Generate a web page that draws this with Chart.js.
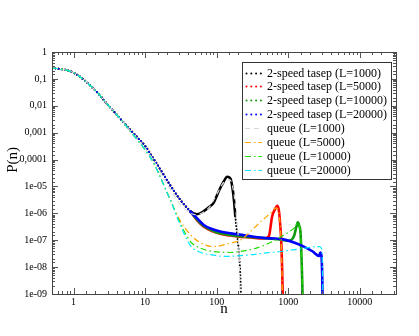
<!DOCTYPE html>
<html>
<head>
<meta charset="utf-8">
<script src="https://cdn.jsdelivr.net/npm/chart.js@4"></script>
<style>
html, body { margin: 0; padding: 0; background: #fff; }
</style>
</head>
<body>
<canvas id="c" width="419" height="336"></canvas>
<script>
// tick labels
var xTickValues = [1, 10, 100, 1000, 10000];
var xTickLabels = ['1', '10', '100', '1000', '10000'];
var yTickValues = [1, 0.1, 0.01, 1e-3, 1e-4, 1e-5, 1e-6, 1e-7, 1e-8, 1e-9];
var yTickLabels = ['1', '0,1', '0,01', '0,001', '0,0001', '1e-05', '1e-06', '1e-07', '1e-08', '1e-09'];

// common start of every curve
var nHead = [0.5, 1, 2, 3, 4, 5];
var pHead = [0.26, 0.17, 0.038, 0.011, 0.0047, 0.0024];

// 2-speed tasep, shared part up to n~43
var nTasepBase = [6, 8, 10, 13, 16, 23, 31, 43];
var pTasepBase = [1.4e-3, 6.2e-4, 3.2e-4, 1.1e-4, 4.7e-5, 1.0e-5, 3.2e-6, 1.17e-6];

var nTasep1000 = [53, 66, 80, 90, 110, 125, 140, 155, 165, 175, 182, 195, 203, 210, 216, 222];
var pTasep1000 = [9.3e-7, 1.2e-6, 1.78e-6, 2.4e-6, 7.9e-6, 1.5e-5, 2.3e-5, 2.0e-5, 1.0e-5, 2.8e-6, 7.9e-7, 1.26e-7, 4.4e-8, 1.26e-8, 2.5e-9, 1e-10];

var nTasep5000 = [53, 66, 90, 112, 193, 300, 450, 535, 595, 650, 700, 740, 775, 800, 822, 850];
var pTasep5000 = [5.6e-7, 3.2e-7, 2.1e-7, 1.74e-7, 1.38e-7, 1.26e-7, 1.17e-7, 1.4e-7, 7.6e-7, 1.4e-6, 1.9e-6, 1.26e-6, 3.2e-7, 7.9e-8, 7.9e-9, 1e-10];

var nTasep10000 = [53, 66, 90, 112, 193, 300, 500, 800, 1000, 1090, 1200, 1300, 1360, 1420, 1486, 1530, 1570, 1610];
var pTasep10000 = [6.0e-7, 3.4e-7, 2.2e-7, 1.8e-7, 1.45e-7, 1.32e-7, 1.17e-7, 1.05e-7, 9.5e-8, 1.0e-7, 1.4e-7, 3.2e-7, 4.6e-7, 3.5e-7, 1.8e-7, 2.5e-8, 2.5e-9, 1e-10];

var nTasep20000 = [53, 66, 90, 112, 193, 300, 560, 780, 1200, 1650, 2200, 2690, 2800, 2900, 2980, 3050];
var pTasep20000 = [6.6e-7, 3.7e-7, 2.5e-7, 2.1e-7, 1.66e-7, 1.4e-7, 1.17e-7, 1.12e-7, 8.3e-8, 5.8e-8, 3.8e-8, 2.6e-8, 3.5e-8, 2.8e-8, 5e-9, 1e-10];

// queue, shared part up to n~23
var nQueueBase = [6, 8, 10, 13, 16, 20, 23];
var pQueueBase = [1.26e-3, 5.0e-4, 2.3e-4, 7.9e-5, 2.5e-5, 6.3e-6, 2.8e-6];

var nQueue1000 = [6, 8, 10, 13, 16, 23, 31, 43, 53, 66, 80, 100, 125, 150, 170, 190, 205, 215];
var pQueue1000 = [1.3e-3, 5.4e-4, 2.6e-4, 9.5e-5, 3.6e-5, 7.1e-6, 2.2e-6, 1.0e-6, 8.9e-7, 1.12e-6, 1.78e-6, 5.0e-6, 1.4e-5, 1.78e-5, 7.9e-6, 6.3e-7, 3.2e-8, 1e-10];

var nQueue5000 = [29, 43, 60, 90, 155, 213, 266, 405, 562, 680, 740, 790, 815, 840];
var pQueue5000 = [7.1e-7, 1.6e-7, 7.9e-8, 5.8e-8, 7.8e-8, 1.0e-7, 1.6e-7, 4.7e-7, 1.0e-6, 1.6e-6, 1.0e-6, 1.26e-7, 1e-8, 1e-10];

var nQueue10000 = [29, 43, 60, 90, 150, 240, 367, 600, 900, 1260, 1360, 1430, 1490, 1530, 1570, 1610];
var pQueue10000 = [6.3e-7, 8.9e-8, 5.0e-8, 3.8e-8, 3.5e-8, 4.0e-8, 5.2e-8, 8.9e-8, 1.66e-7, 3.2e-7, 4.4e-7, 3.2e-7, 1.6e-7, 2.5e-8, 2.5e-9, 1e-10];

var nQueue20000 = [29, 43, 60, 90, 125, 266, 500, 780, 1500, 2690, 2900, 3000, 3060];
var pQueue20000 = [5.6e-7, 6.3e-8, 3.5e-8, 2.8e-8, 2.5e-8, 2.8e-8, 3.4e-8, 3.8e-8, 4.8e-8, 5.8e-8, 5.0e-8, 1e-8, 1e-10];

function pts(nList, pList) {
	var out = [];
	for (var i = 0; i < nList.length; i++) {
		out.push({ x: nList[i], y: pList[i] });
	}
	return out;
}
function tasepPts(n, p) {
	return pts(nHead, pHead).concat(pts(nTasepBase, pTasepBase), pts(n, p));
}
function queuePts(n, p, ownStart) {
	var base = ownStart ? [] : pts(nQueueBase, pQueueBase);
	return pts(nHead, pHead).concat(base, pts(n, p));
}

var queueDash = [6, 3, 1.5, 3];

// tasep data is sparse (one dot per n) at small n, dense further on
function tasep(label, color, data, dotFrom) {
	var dotted = function (c) {
		var n = c.p0.parsed.x;
		return n < 40 || n >= dotFrom;
	};
	return {
		label: label, data: data, borderColor: color, backgroundColor: color,
		borderWidth: 2.6, borderCapStyle: 'round', kind: 'tasep',
		segment: {
			borderWidth: function (c) { return dotted(c) ? 2 : 2.6; },
			borderDash: function (c) { return dotted(c) ? [0.1, 3.2] : []; }
		}
	};
}
function queue(label, color, data, dash) {
	return { label: label, data: data, borderColor: color, backgroundColor: color,
		borderWidth: 1.2, borderDash: dash, kind: 'queue' };
}

var datasets = [
	tasep('2-speed tasep (L=1000)', '#000000', tasepPts(nTasep1000, pTasep1000), 178),
	tasep('2-speed tasep (L=5000)', '#ff0000', tasepPts(nTasep5000, pTasep5000), Infinity),
	tasep('2-speed tasep (L=10000)', '#119911', tasepPts(nTasep10000, pTasep10000), Infinity),
	tasep('2-speed tasep (L=20000)', '#0000ff', tasepPts(nTasep20000, pTasep20000), Infinity),
	queue('queue (L=1000)', '#d8d8d8', queuePts(nQueue1000, pQueue1000, true), [5, 4]),
	queue('queue (L=5000)', '#ffa500', queuePts(nQueue5000, pQueue5000), queueDash),
	queue('queue (L=10000)', '#22dd00', queuePts(nQueue10000, pQueue10000), queueDash),
	queue('queue (L=20000)', '#00e8ff', queuePts(nQueue20000, pQueue20000), queueDash)
];
// later sets drawn on top, as in the original plot
datasets.forEach(function (ds, i) { ds.order = datasets.length - i; });

function findLabel(value, vals, labels) {
	for (var i = 0; i < vals.length; i++) {
		if (Math.abs(value - vals[i]) / vals[i] < 1e-6) return labels[i];
	}
	return '';
}
function isMajor(v) {
	var l = Math.log10(v);
	return Math.abs(l - Math.round(l)) < 1e-6;
}

// inward ticks on all four sides plus the frame
var frameTicks = {
	id: 'frameTicks',
	afterDatasetsDraw: function (chart) {
		var ctx = chart.ctx, a = chart.chartArea;
		var xs = chart.scales.x, ys = chart.scales.y;
		ctx.save();
		ctx.strokeStyle = '#555';
		ctx.lineWidth = 1;
		ctx.beginPath();
		xs.ticks.forEach(function (t) {
			var px = Math.round(xs.getPixelForValue(t.value)) + 0.5;
			var len = isMajor(t.value) ? 6 : 3;
			ctx.moveTo(px, a.bottom); ctx.lineTo(px, a.bottom - len);
			ctx.moveTo(px, a.top); ctx.lineTo(px, a.top + len);
		});
		ys.ticks.forEach(function (t) {
			var py = Math.round(ys.getPixelForValue(t.value)) + 0.5;
			var len = isMajor(t.value) ? 6 : 3;
			ctx.moveTo(a.left, py); ctx.lineTo(a.left + len, py);
			ctx.moveTo(a.right, py); ctx.lineTo(a.right - len, py);
		});
		ctx.stroke();
		ctx.strokeStyle = '#444';
		ctx.strokeRect(Math.round(a.left) + 0.5, Math.round(a.top) + 0.5,
			Math.round(a.right - a.left), Math.round(a.bottom - a.top));
		ctx.restore();
	}
};

// boxed legend in the upper right of the plot
var boxLegend = {
	id: 'boxLegend',
	afterDraw: function (chart) {
		var ctx = chart.ctx;
		var box = { left: 242, top: 62, right: 391, bottom: 179 };
		var rowY = 72.5, rowH = 13.9;
		ctx.save();
		ctx.fillStyle = '#fff';
		ctx.fillRect(box.left, box.top, box.right - box.left, box.bottom - box.top);
		ctx.strokeStyle = '#333';
		ctx.lineWidth = 1;
		ctx.strokeRect(box.left + 0.5, box.top + 0.5, box.right - box.left, box.bottom - box.top);
		ctx.font = '12px "Liberation Serif"';
		ctx.textBaseline = 'middle';
		chart.data.datasets.forEach(function (ds, i) {
			var y = Math.round(rowY + i * rowH) + 0.5;
			if (ds.kind === 'tasep') {
				ctx.fillStyle = ds.borderColor;
				for (var k = 0; k < 4; k++) {
					ctx.beginPath();
					ctx.arc(246.5 + k * 4.8, y, 1, 0, Math.PI * 2);
					ctx.fill();
				}
			} else {
				ctx.strokeStyle = ds.borderColor;
				ctx.lineWidth = 1.2;
				ctx.setLineDash(ds.borderDash);
				ctx.beginPath();
				ctx.moveTo(245, y); ctx.lineTo(262, y);
				ctx.stroke();
				ctx.setLineDash([]);
			}
			ctx.fillStyle = '#000';
			ctx.fillText(ds.label, 267, y);
		});
		ctx.restore();
	}
};

Chart.defaults.font.family = '"Liberation Serif", "DejaVu Serif", serif';
Chart.defaults.color = '#000';

new Chart(document.getElementById('c').getContext('2d'), {
	type: 'line',
	data: { datasets: datasets },
	options: {
		responsive: false,
		animation: false,
		events: [],
		layout: { padding: { top: 52, right: 23, bottom: 0, left: 0 } },
		elements: {
			point: { radius: 0 },
			line: { cubicInterpolationMode: 'monotone', fill: false }
		},
		plugins: { legend: { display: false }, tooltip: { enabled: false } },
		scales: {
			x: {
				type: 'logarithmic',
				min: 0.5,
				max: 32000,
				afterFit: function (s) { s.height = 42; },
				grid: { display: false, drawTicks: false },
				border: { display: false },
				ticks: {
					autoSkip: false, maxRotation: 0, padding: 2,
					font: { size: 10 },
					callback: function (v) { return findLabel(v, xTickValues, xTickLabels); }
				},
				title: { display: true, text: 'n', font: { size: 15 }, padding: { top: 0, bottom: 18 } }
			},
			y: {
				type: 'logarithmic',
				min: 1e-9,
				max: 1,
				afterFit: function (s) { s.width = 52; },
				grid: { display: false, drawTicks: false },
				border: { display: false },
				ticks: {
					autoSkip: false, padding: 5,
					font: { size: 10 },
					callback: function (v) { return findLabel(v, yTickValues, yTickLabels); }
				},
				// leading spaces lift the rotated title a bit above the axis middle
				title: { display: true, text: '\u00a0\u00a0\u00a0\u00a0\u00a0\u00a0\u00a0P(n)', font: { size: 15 }, padding: { top: 4, bottom: 0 } }
			}
		}
	},
	plugins: [frameTicks, boxLegend]
});
</script>
</body>
</html>
